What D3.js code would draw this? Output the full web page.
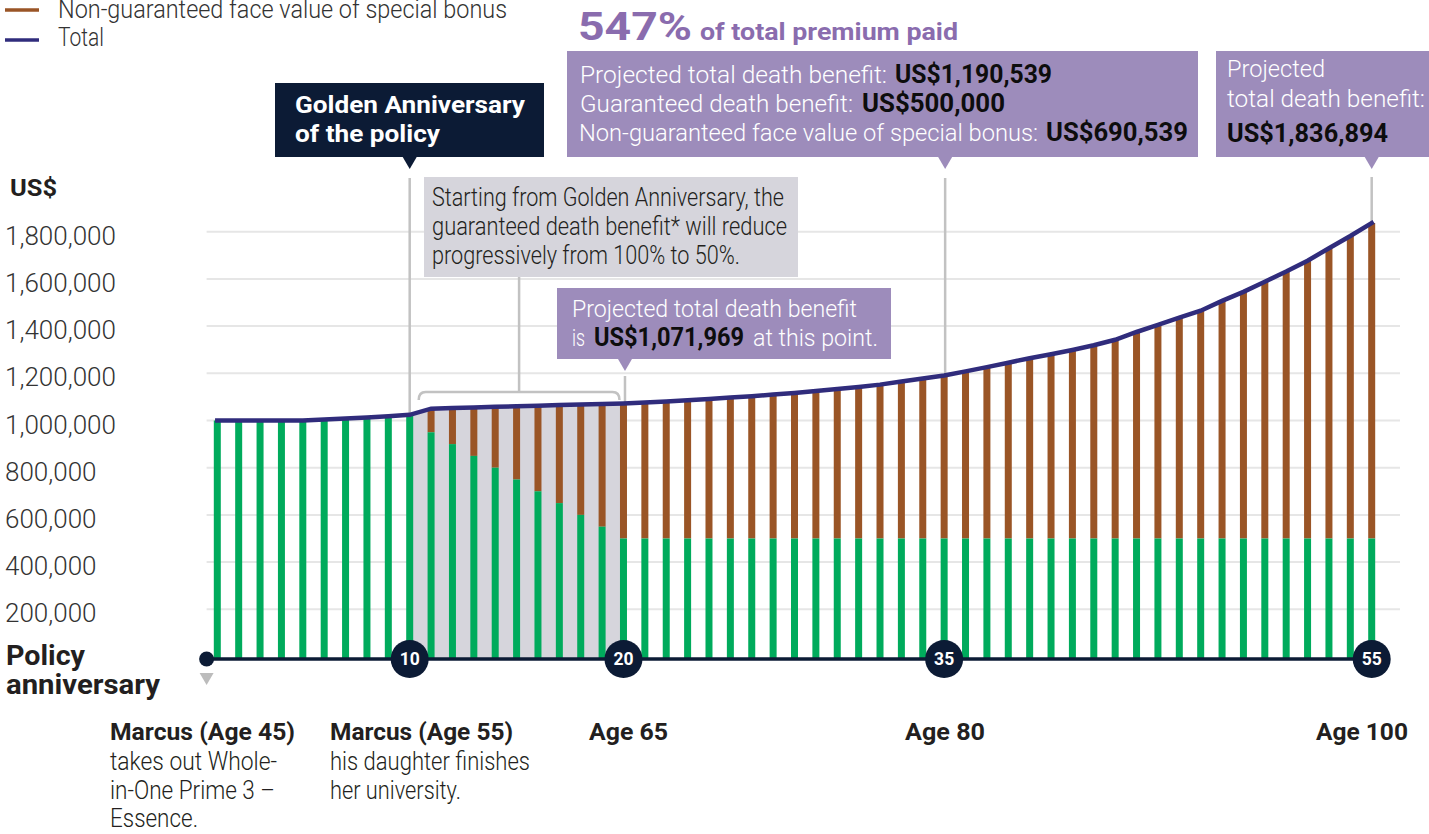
<!DOCTYPE html>
<html>
<head>
<meta charset="utf-8">
<script src="https://cdn.jsdelivr.net/npm/d3@7"></script>
<style>
  body { margin: 0; background: #fff; }
  svg { display: block; font-family: Roboto, "Noto Sans", sans-serif; }
</style>
</head>
<body>
<svg id="chart" width="1429" height="834"></svg>
<script>
// policy anniversary (years 1..55)
const years = [1, 2, 3, 4, 5, 6, 7, 8, 9, 10, 11, 12, 13, 14, 15, 16, 17, 18, 19, 20,
  21, 22, 23, 24, 25, 26, 27, 28, 29, 30, 31, 32, 33, 34, 35, 36, 37, 38, 39, 40,
  41, 42, 43, 44, 45, 46, 47, 48, 49, 50, 51, 52, 53, 54, 55];

// guaranteed death benefit (green)
const guaranteed = [1000000, 1000000, 1000000, 1000000, 1000000, 1004000, 1008000, 1013000, 1018000, 1024000,
  950000, 900000, 850000, 800000, 750000, 700000, 650000, 600000, 550000, 500000,
  500000, 500000, 500000, 500000, 500000, 500000, 500000, 500000, 500000, 500000,
  500000, 500000, 500000, 500000, 500000, 500000, 500000, 500000, 500000, 500000,
  500000, 500000, 500000, 500000, 500000, 500000, 500000, 500000, 500000, 500000,
  500000, 500000, 500000, 500000, 500000];

// projected total death benefit (line / top of brown bars)
const total = [1000000, 1000000, 1000000, 1000000, 1000000, 1004000, 1008000, 1013000, 1018000, 1024000,
  1050000, 1053000, 1055500, 1058000, 1060500, 1063000, 1065500, 1067500, 1069800, 1071969,
  1076000, 1081000, 1086000, 1091000, 1097000, 1103000, 1110000, 1117000, 1125000, 1133000,
  1142000, 1152000, 1165000, 1178000, 1190539, 1208000, 1226000, 1245000, 1264000, 1281000,
  1299000, 1319000, 1342000, 1375000, 1405000, 1436000, 1465000, 1507000, 1545000, 1588000,
  1631000, 1677000, 1730000, 1782000, 1836894];

const yTicks = [200000, 400000, 600000, 800000, 1000000, 1200000, 1400000, 1600000, 1800000];
const milestones = [10, 20, 35, 55];
const shadeYears = [10, 20];

const green = '#00ab5c';
const brown = '#9a5526';
const navyLine = '#302c7c';
const navy = '#0c1b35';
const purple = '#9d8cbb';
const purpleText = '#8a6cae';
const calloutGrey = '#c2c2c2';
const ink = '#231f20';

const svg = d3.select('#chart');

const x = d3.scaleLinear()
    .domain([1, 55])
    .range([217.3, 1371.7]);

const y = d3.scaleLinear()
    .domain([0, 1800000])
    .range([656.5, 231.7]);

const axisY = y(0) + 2.5;
const rows = years.map((yr, i) => ({ yr, g: guaranteed[i], t: total[i] }));

function txt(g, px, py, s, o) {
  const t = g.append('text')
      .attr('x', px)
      .attr('y', py)
      .attr('font-size', o.size)
      .attr('font-weight', o.weight || 300)
      .attr('fill', o.fill || ink)
      .text(s);
  if (o.len) t.attr('textLength', o.len).attr('lengthAdjust', 'spacingAndGlyphs');
  if (o.anchor) t.attr('text-anchor', o.anchor);
  return t;
}

// gridlines + y labels
const grid = svg.append('g');
grid.selectAll('line')
    .data(yTicks)
  .enter().append('line')
    .attr('x1', x(0.5))
    .attr('x2', 1400)
    .attr('y1', d => y(d))
    .attr('y2', d => y(d))
    .attr('stroke', '#e6e6e6')
    .attr('stroke-width', 2);

grid.selectAll('text')
    .data(yTicks)
  .enter().append('text')
    .attr('x', 5)
    .attr('y', d => y(d) + 13)
    .attr('font-size', 26)
    .attr('font-weight', 300)
    .attr('fill', '#333')
    .text(d => d3.format(',')(d));

txt(svg, 10, 196, 'US$', { size: 24, weight: 700, len: 47 });

// shaded reduction period
const shadeRows = rows.filter(d => d.yr >= shadeYears[0] && d.yr <= shadeYears[1]);
svg.append('path')
    .datum(shadeRows)
    .attr('fill', '#d6d5dc')
    .attr('d', d3.area()
      .x(d => x(d.yr))
      .y0(axisY)
      .y1(d => y(d.t)));

// callout leader lines
const leaders = svg.append('g')
    .attr('stroke', calloutGrey)
    .attr('stroke-width', 2.5)
    .attr('fill', 'none');
leaders.append('line').attr('x1', x(10)).attr('x2', x(10)).attr('y1', 178).attr('y2', y(total[9]));
leaders.append('line').attr('x1', x(20) + 1.5).attr('x2', x(20) + 1.5).attr('y1', 376).attr('y2', y(total[19]));
leaders.append('line').attr('x1', x(35) + 1).attr('x2', x(35) + 1).attr('y1', 178).attr('y2', y(total[34]));
leaders.append('line').attr('x1', x(55)).attr('x2', x(55)).attr('y1', 177).attr('y2', y(total[54]));

// bracket over years 11-20
const bl = x(10) + 9, br = x(20) - 4, by = 392;
leaders.append('path')
    .attr('d', `M${bl},${by + 8} Q${bl},${by} ${bl + 7},${by} L${br - 7},${by} Q${br},${by} ${br},${by + 8}`);
leaders.append('line')
    .attr('x1', (bl + br) / 2).attr('x2', (bl + br) / 2)
    .attr('y1', 277).attr('y2', by);

// bars
const bw = 7;
const bars = svg.append('g');
bars.selectAll('.bonus')
    .data(rows.filter(d => d.t > d.g))
  .enter().append('rect')
    .attr('class', 'bonus')
    .attr('x', d => x(d.yr) - bw / 2)
    .attr('y', d => y(d.t))
    .attr('width', bw)
    .attr('height', d => y(d.g) - y(d.t))
    .attr('fill', brown);

bars.selectAll('.guar')
    .data(rows)
  .enter().append('rect')
    .attr('class', 'guar')
    .attr('x', d => x(d.yr) - bw / 2)
    .attr('y', d => y(d.g))
    .attr('width', bw)
    .attr('height', d => axisY - y(d.g))
    .attr('fill', green);

// total line
svg.append('path')
    .datum(rows)
    .attr('fill', 'none')
    .attr('stroke', navyLine)
    .attr('stroke-width', 4.5)
    .attr('stroke-linecap', 'square')
    .attr('d', d3.line().x(d => x(d.yr)).y(d => y(d.t)));

// policy anniversary axis
svg.append('line')
    .attr('x1', x(0.5))
    .attr('x2', x(55))
    .attr('y1', axisY)
    .attr('y2', axisY)
    .attr('stroke', navy)
    .attr('stroke-width', 3.5);

svg.append('circle')
    .attr('cx', x(0.5))
    .attr('cy', axisY)
    .attr('r', 7.5)
    .attr('fill', navy);

const ox = x(0.5);
svg.append('path')
    .attr('d', `M${ox - 7},${axisY + 14} L${ox + 7},${axisY + 14} L${ox},${axisY + 26} Z`)
    .attr('fill', '#bcbcbc');

const ms = svg.append('g').selectAll('g')
    .data(milestones)
  .enter().append('g')
    .attr('transform', d => `translate(${x(d)},${axisY})`);
ms.append('circle').attr('r', 19).attr('fill', navy);
ms.append('text')
    .attr('text-anchor', 'middle')
    .attr('dy', '0.36em')
    .attr('font-size', 17.5)
    .attr('font-weight', 700)
    .attr('fill', '#fff')
    .text(d => d);

// boxes with pointers
function box(bx, byy, w, h, fill, px) {
  svg.append('rect')
      .attr('x', bx).attr('y', byy)
      .attr('width', w).attr('height', h)
      .attr('fill', fill);
  if (px != null) {
    svg.append('path')
        .attr('d', `M${px - 7},${byy + h} L${px + 7},${byy + h} L${px},${byy + h + 12} Z`)
        .attr('fill', fill);
  }
}

box(275, 83, 269, 74, navy, x(10));
box(567, 51, 631, 106, purple, x(35) + 1);
box(1216, 51, 230, 106, purple, x(55));
box(557, 288, 334, 71, purple, x(20) + 1.5);
box(424, 177, 374, 100, '#d6d5dc', null);

// legend (top entry is cropped by the frame, as in the source)
svg.append('line').attr('x1', 5).attr('x2', 39).attr('y1', 10).attr('y2', 10)
    .attr('stroke', brown).attr('stroke-width', 3.5);
svg.append('line').attr('x1', 5).attr('x2', 39).attr('y1', 40).attr('y2', 40)
    .attr('stroke', navyLine).attr('stroke-width', 3.5);
txt(svg, 58, 18, 'Non-guaranteed face value of special bonus', { size: 26, fill: '#333', len: 449 });
txt(svg, 58, 46, 'Total', { size: 26, fill: '#333', len: 46 });

// headline
txt(svg, 578, 40, '547%', { size: 38, weight: 700, fill: purpleText, len: 114 });
txt(svg, 700, 40, 'of total premium paid', { size: 23, weight: 700, fill: purpleText, len: 258 });

// golden anniversary box
txt(svg, 295, 113, 'Golden Anniversary', { size: 23.5, weight: 700, fill: '#fff', len: 230 });
txt(svg, 295, 142, 'of the policy', { size: 23.5, weight: 700, fill: '#fff', len: 145 });

// box: year 35
const wb = '#fff', kb = '#0d0d0d';
txt(svg, 580, 83, 'Projected total death benefit:', { size: 23.5, fill: wb, len: 307 });
txt(svg, 895, 83, 'US$1,190,539', { size: 25, weight: 700, fill: kb, len: 157 });
txt(svg, 580, 112, 'Guaranteed death benefit:', { size: 23.5, fill: wb, len: 273 });
txt(svg, 862, 112, 'US$500,000', { size: 25, weight: 700, fill: kb, len: 143 });
txt(svg, 579, 141, 'Non-guaranteed face value of special bonus:', { size: 23.5, fill: wb, len: 459 });
txt(svg, 1046, 141, 'US$690,539', { size: 25, weight: 700, fill: kb, len: 142 });

// box: year 55
txt(svg, 1227, 77, 'Projected', { size: 23.5, fill: wb, len: 98 });
txt(svg, 1227, 107, 'total death benefit:', { size: 23.5, fill: wb, len: 198 });
txt(svg, 1227, 142, 'US$1,836,894', { size: 25, weight: 700, fill: kb, len: 161 });

// box: year 20
txt(svg, 572, 317, 'Projected total death benefit', { size: 23.5, fill: wb, len: 285 });
txt(svg, 572, 346, 'is', { size: 23.5, fill: wb, len: 13 });
txt(svg, 594, 346, 'US$1,071,969', { size: 25, weight: 700, fill: kb, len: 150 });
txt(svg, 753, 346, 'at this point.', { size: 23.5, fill: wb, len: 125 });

// grey note
txt(svg, 432, 206, 'Starting from Golden Anniversary, the', { size: 25, fill: ink, len: 352 });
txt(svg, 432, 235, 'guaranteed death benefit* will reduce', { size: 25, fill: ink, len: 355 });
txt(svg, 432, 264, 'progressively from 100% to 50%.', { size: 25, fill: ink, len: 308 });

// axis title
txt(svg, 6, 665, 'Policy', { size: 27, weight: 700, fill: ink, len: 79 });
txt(svg, 6, 694, 'anniversary', { size: 27, weight: 700, fill: ink, len: 154 });

// life-stage labels
txt(svg, 110, 740, 'Marcus (Age 45)', { size: 24.5, weight: 700, len: 185 });
txt(svg, 110, 770, 'takes out Whole-', { size: 25.5, len: 167 });
txt(svg, 110, 799, 'in-One Prime 3 –', { size: 25.5, len: 165 });
txt(svg, 110, 827, 'Essence.', { size: 25.5, len: 88 });

txt(svg, 330, 740, 'Marcus (Age 55)', { size: 24.5, weight: 700, len: 183 });
txt(svg, 330, 770, 'his daughter finishes', { size: 25.5, len: 200 });
txt(svg, 330, 799, 'her university.', { size: 25.5, len: 131 });

txt(svg, 589, 740, 'Age 65', { size: 24.5, weight: 700, len: 79 });
txt(svg, 905, 740, 'Age 80', { size: 24.5, weight: 700, len: 80 });
txt(svg, 1408, 740, 'Age 100', { size: 24.5, weight: 700, len: 92, anchor: 'end' });
</script>
</body>
</html>
